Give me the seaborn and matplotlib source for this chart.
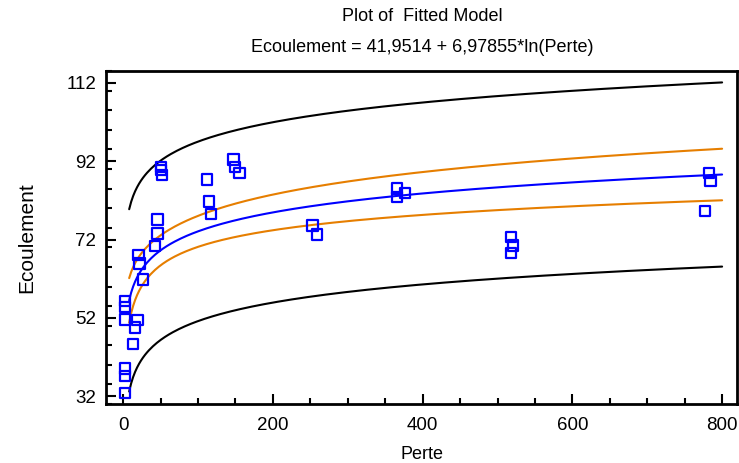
import numpy as np
import pandas as pd
import matplotlib
matplotlib.use("Agg")
import matplotlib.pyplot as plt
from matplotlib.ticker import MultipleLocator
import seaborn as sns

perte = [2.7, 2.7, 2.7, 2.7, 2.7, 2.7, 13, 16, 19, 20.4, 21.8, 26.3,
         42.7, 45.8, 45.8, 50.3, 50.3, 51.7, 111.7, 114.8, 117.5,
         147.3, 149.5, 155.3, 253, 258.6, 365.4, 365.4, 376.5,
         518, 520.3, 518, 777, 782.4, 784.6]
ecoulement = [56.3, 54.8, 51.6, 39.1, 37.1, 32.9, 45.3, 49.5, 51.4, 68.0, 65.9, 61.8,
              70.3, 73.5, 77.1, 90.5, 89.7, 88.4, 87.3, 81.7, 78.6,
              92.4, 90.5, 89.0, 75.6, 73.3, 85.0, 82.8, 83.9,
              72.6, 70.5, 68.6, 79.2, 89.0, 86.9]

# Fitted model from the title: Ecoulement = a + b*ln(Perte)
INTERCEPT = 41.9514
SLOPE = 6.97855
T_975 = 2.035  # t quantile, n-2 = 33 df

df = pd.DataFrame({"Perte": perte, "Ecoulement": ecoulement})

# residual spread and leverage in ln(Perte)
u = np.log(df["Perte"])
resid = df["Ecoulement"] - (INTERCEPT + SLOPE * u)
n = len(df)
s = np.sqrt((resid ** 2).sum() / (n - 2))
u_bar = u.mean()
s_uu = ((u - u_bar) ** 2).sum()

x_grid = np.linspace(8, 800, 300)
u_grid = np.log(x_grid)
fit = INTERCEPT + SLOPE * u_grid
lev = 1 / n + (u_grid - u_bar) ** 2 / s_uu
conf = T_975 * s * np.sqrt(lev)
pred = T_975 * s * np.sqrt(1 + lev)

sns.set_style("ticks")
plt.rcParams["font.family"] = ["Liberation Sans", "DejaVu Sans"]
plt.rcParams["text.color"] = "black"
plt.rcParams["axes.labelcolor"] = "black"
plt.rcParams["xtick.color"] = "black"
plt.rcParams["ytick.color"] = "black"

fig = plt.figure(figsize=(7.39, 4.63), dpi=100)
ax = fig.add_axes([0.1434, 0.1274, 0.854, 0.719])

sns.lineplot(x=x_grid, y=fit + pred, color="black", lw=1.5, ax=ax)
sns.lineplot(x=x_grid, y=fit - pred, color="black", lw=1.5, ax=ax)
sns.lineplot(x=x_grid, y=fit + conf, color="#e67e00", lw=1.5, ax=ax)
sns.lineplot(x=x_grid, y=fit - conf, color="#e67e00", lw=1.5, ax=ax)
sns.lineplot(x=x_grid, y=fit, color="#0000ff", lw=1.5, ax=ax)
sns.scatterplot(data=df, x="Perte", y="Ecoulement", marker="s", s=55,
                facecolor="none", edgecolor="#0000ff", linewidth=1.6, ax=ax, zorder=5)

ax.set_xlim(-23, 820)
ax.set_ylim(30, 115)
ax.set_xticks([0, 200, 400, 600, 800])
ax.set_yticks([32, 52, 72, 92, 112])
ax.xaxis.set_minor_locator(MultipleLocator(50))
ax.yaxis.set_minor_locator(MultipleLocator(5))
ax.tick_params(which="major", direction="in", length=7, width=1.5, labelsize=13.5)
ax.tick_params(axis="x", which="major", pad=9)
ax.tick_params(axis="y", which="major", pad=7)
ax.tick_params(which="minor", direction="in", length=4, width=1.5)
for sp in ax.spines.values():
    sp.set_linewidth(2)
    sp.set_visible(True)
    sp.set_color("black")

ax.set_xlabel("Perte", fontsize=13, labelpad=9)
ax.set_ylabel("Ecoulement", fontsize=15, labelpad=22)

fig.text(0.572, 0.965, "Plot of  Fitted Model", ha="center", va="center", fontsize=13)
fig.text(0.572, 0.897, "Ecoulement = 41,9514 + 6,97855*ln(Perte)", ha="center", va="center", fontsize=13)

fig.savefig("out.png", dpi=100)
